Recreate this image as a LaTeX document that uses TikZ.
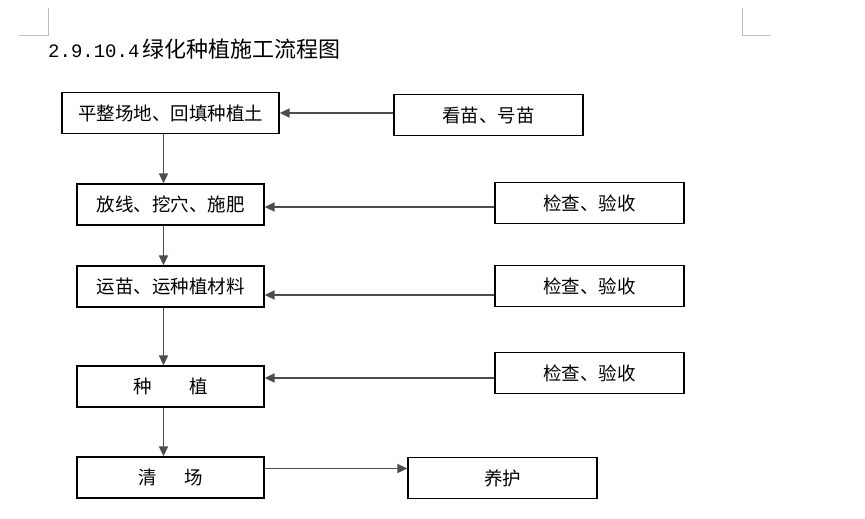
\documentclass[tikz,border=0pt]{standalone}
\usepackage{fontspec}
\setmainfont{Noto Sans CJK SC}
\newfontfamily\digitfont{Liberation Mono}
\usetikzlibrary{positioning,arrows.meta}

\begin{document}
\begin{tikzpicture}[
		x=1pt, y=-1pt
		,n/.style={draw, line width=1.3pt, minimum width=187pt, minimum height=41pt, inner sep=0pt, font=\fontsize{18.5}{18.5}\selectfont}
		,wide/.style={minimum width=217pt}
		,chk/.style={n, minimum width=189pt}
		,flow/.style={draw=black!70, line width=1.7pt, -{Triangle[length=10pt,width=9pt]}}
		,cropmark/.style={draw=black!25, line width=0.8pt}
	]
		\useasboundingbox (0,0) rectangle (865,519);

		\draw[cropmark] (19,35) -- (48,35) -- (48,8);
		\draw[cropmark] (742,8) -- (742,35) -- (770,35);

		\node[anchor=base west, inner sep=0pt, font=\fontsize{22}{22}\selectfont] (title) at (48,58) {{\digitfont\fontsize{19}{19}\selectfont 2.9.10.4}\kern3pt 绿化种植施工流程图};

		\node[n, wide] (ground) at (170.5,113) {平整场地、回填种植土};
		\node[n] (layout) at (170.5,204.5) {放线、挖穴、施肥};
		\node[n] (haul) at (170.5,286.5) {运苗、运种植材料};
		\node[n] (plant) at (170.5,386.5) {种\hspace{2em}植};
		\node[n] (clear) at (170.5,477.5) {清\hspace{1.5em}场};

		\node[chk] (select) at (488.5,115) {看苗、号苗};
		\node[chk] (check1) at (589.5,203) {检查、验收};
		\node[chk] (check2) at (589.5,286) {检查、验收};
		\node[chk] (check3) at (589.5,373) {检查、验收};
		\node[chk] (care) at (502.5,478) {养护};

		\foreach \a/\b in {ground/layout, layout/haul, haul/plant, plant/clear}
			\draw[flow] ([xshift=-7pt]\a.south) -- ([xshift=-7pt]\b.north);

		\draw[flow] ([yshift=2pt]select.west) -- ([yshift=2pt]select.west -| ground.east);
		\draw[flow] ([yshift=-4pt]check1.west) -- ([yshift=-4pt]check1.west -| layout.east);
		\draw[flow] ([yshift=-9pt]check2.west) -- ([yshift=-9pt]check2.west -| haul.east);
		\draw[flow] ([yshift=-5pt]check3.west) -- ([yshift=-5pt]check3.west -| plant.east);
		\draw[flow] ([yshift=9pt]clear.east) -- ([yshift=9pt]clear.east -| care.west);
	\end{tikzpicture}
\end{document}
